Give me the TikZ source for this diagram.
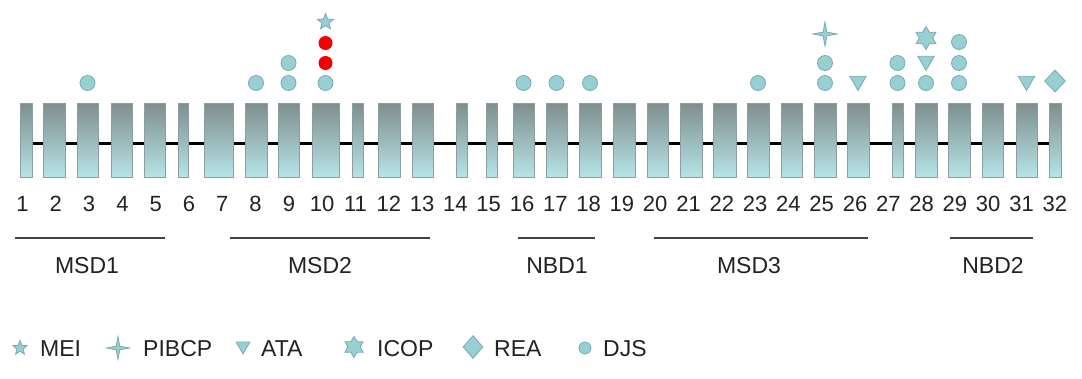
\documentclass[tikz,border=0pt]{standalone}
\usepackage{fontspec}
\setmainfont{Liberation Sans}
\usetikzlibrary{shapes.geometric}

\definecolor{boxtop}{HTML}{7F8E8E}
\definecolor{boxbot}{HTML}{B6E4E7}
\definecolor{boxedge}{HTML}{8E9E9E}
\definecolor{mkfill}{HTML}{98CFD2}
\definecolor{mkedge}{HTML}{78ACB1}
\definecolor{spot}{HTML}{F20000}
\definecolor{ink}{HTML}{222222}

\begin{document}
\begin{tikzpicture}[
        x=1pt, y=-1pt,
        exon/.style={
            draw=boxedge,
            line width=1pt,
            top color=boxtop,
            bottom color=boxbot,
            minimum height=74pt,
            inner sep=0pt
        },
        backbone/.style={draw=black, line width=2.6pt},
        num/.style={font=\fontsize{22}{24}\selectfont, text=ink, inner sep=0pt, anchor=base},
        domlab/.style={font=\fontsize{23}{26}\selectfont, text=ink, inner sep=0pt, anchor=base},
        domline/.style={draw=ink!85, line width=1.8pt},
        legtext/.style={font=\fontsize{23}{26}\selectfont, text=ink, inner sep=0pt, anchor=base west},
        symb/.style={draw=mkedge, fill=mkfill, line width=0.8pt, inner sep=0pt},
        djs/.style={symb, circle, minimum size=15pt},
        redspot/.style={circle, fill=spot, minimum size=14pt, inner sep=0pt},
        mei/.style={symb, star, star points=5, star point ratio=2.3, minimum size=17pt},
        pibcp/.style={symb, star, star points=4, star point ratio=4.5, minimum size=24pt},
        ata/.style={symb, regular polygon, regular polygon sides=3, shape border rotate=180, minimum size=19pt},
        icop/.style={symb, star, star points=6, star point ratio=1.7, minimum size=23pt},
        rea/.style={symb, diamond, minimum width=21pt, minimum height=22pt}
    ]

    \useasboundingbox (0,0) rectangle (1082,378);

    % exons
    \foreach \x/\w [count=\i] in {26/12, 54/22, 87.5/21, 121.5/21, 154.5/21, 183/10, 218.5/29, 256/22,
            288.5/21, 325.5/27, 357.5/11, 389/22, 422.5/21, 461.5/11, 491.5/11, 523.5/21,
            556.5/21, 590/22, 624/22, 657.5/21, 691/22, 724.5/23, 758/22, 791.5/21,
            825/22, 858/22, 897.5/11, 926/22, 959/22, 992.5/21, 1026.5/21, 1055/12}
        \node[exon, minimum width=\w pt] (e\i) at (\x,140) {};

    \foreach \i [evaluate=\i as \j using int(\i+1)] in {1,...,31}
        \draw[backbone] ([yshift=-3.5pt]e\i.east) -- ([yshift=-3.5pt]e\j.west);

    % exon numbers
    \foreach \i in {1,...,32}
        \node[num] (n\i) at ({22.5+33.3*(\i-1)},211) {\i};

    % domains
    \draw[domline] (15,238) -- (165,238);
    \draw[domline] (230,238) -- (430,238);
    \draw[domline] (518,238) -- (595,238);
    \draw[domline] (654,238) -- (868,238);
    \draw[domline] (950,238) -- (1033,238);
    \node[domlab] (msd1) at (87,273) {MSD1};
    \node[domlab] (msd2) at (320,273) {MSD2};
    \node[domlab] (nbd1) at (557,273) {NBD1};
    \node[domlab] (msd3) at (749,273) {MSD3};
    \node[domlab] (nbd2) at (993,273) {NBD2};

    % variants
    \node[djs] (v3a) at (e3 |- 0,83) {};
    \node[djs] (v8a) at (e8 |- 0,83) {};
    \node[djs] (v9a) at (e9 |- 0,83) {};
    \node[djs] (v9b) at (e9 |- 0,63) {};
    \node[djs] (v10a) at (e10 |- 0,83) {};
    \node[redspot] (v10b) at (e10 |- 0,63) {};
    \node[redspot] (v10c) at (e10 |- 0,43) {};
    \node[mei] (v10d) at (e10 |- 0,22) {};
    \node[djs] (v16a) at (e16 |- 0,83) {};
    \node[djs] (v17a) at (e17 |- 0,83) {};
    \node[djs] (v18a) at (e18 |- 0,83) {};
    \node[djs] (v23a) at (e23 |- 0,83) {};
    \node[djs] (v25a) at (e25 |- 0,83) {};
    \node[djs] (v25b) at (e25 |- 0,63) {};
    \node[pibcp] (v25c) at (e25 |- 0,34) {};
    \node[ata] (v26a) at (e26 |- 0,81) {};
    \node[djs] (v27a) at (e27 |- 0,83) {};
    \node[djs] (v27b) at (e27 |- 0,63) {};
    \node[djs] (v28a) at (e28 |- 0,83) {};
    \node[ata] (v28b) at (e28 |- 0,61) {};
    \node[icop] (v28c) at (e28 |- 0,38) {};
    \node[djs] (v29a) at (e29 |- 0,83) {};
    \node[djs] (v29b) at (e29 |- 0,63) {};
    \node[djs] (v29c) at (e29 |- 0,42) {};
    \node[ata] (v31a) at (e31 |- 0,81) {};
    \node[rea] (v32a) at (e32 |- 0,81) {};

    % legend
    \node[mei, minimum size=15pt] (kmei) at (20,348) {};
    \node[legtext] (tmei) at (40,356) {MEI};
    \node[pibcp, minimum size=23pt] (kpibcp) at (118,348) {};
    \node[legtext] (tpibcp) at (143,356) {PIBCP};
    \node[ata, minimum size=16pt] (kata) at (243,346) {};
    \node[legtext] (tata) at (261,356) {ATA};
    \node[icop, minimum size=21pt] (kicop) at (354,347) {};
    \node[legtext] (ticop) at (377,356) {ICOP};
    \node[rea, minimum width=20pt, minimum height=23pt] (krea) at (473,347) {};
    \node[legtext] (trea) at (494,356) {REA};
    \node[djs, minimum size=12pt] (kdjs) at (585,348) {};
    \node[legtext] (tdjs) at (603,356) {DJS};

\end{tikzpicture}
\end{document}
